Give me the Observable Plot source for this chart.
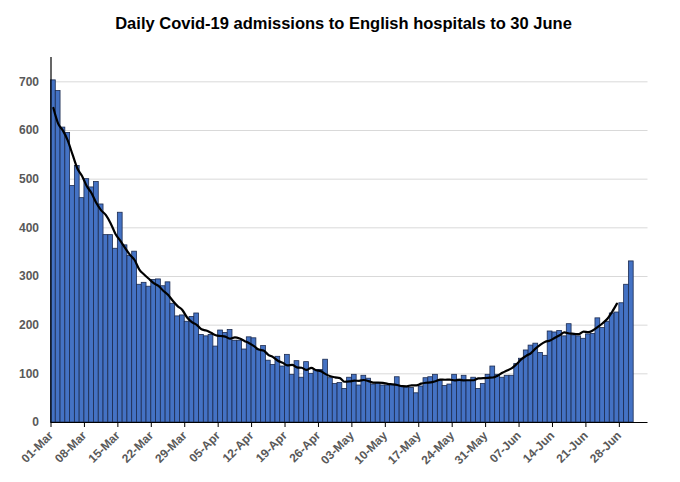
<!DOCTYPE html>
<html>
<head>
<meta charset="utf-8">
<script src="https://cdn.jsdelivr.net/npm/d3@7"></script>
<script src="https://cdn.jsdelivr.net/npm/@observablehq/plot@0.6"></script>
<style>
  html, body { margin: 0; padding: 0; background: #fff; }
</style>
</head>
<body>
<div id="chart"></div>
<script>
const title = "Daily Covid-19 admissions to English hospitals to 30 June";
const startDate = "2021-03-01";
const endDomain = "2021-07-04";
const admissions = [
  703, 681, 606, 595, 486, 527, 461, 500, 483, 494,
  448, 385, 385, 357, 431, 364, 342, 351, 283, 287,
  279, 293, 294, 280, 288, 244, 218, 220, 207, 217,
  224, 180, 177, 180, 156, 189, 184, 190, 168, 168,
  150, 175, 173, 149, 157, 127, 118, 135, 115, 139,
  98, 126, 92, 124, 100, 108, 108, 129, 91, 79,
  81, 69, 92, 98, 76, 96, 90, 78, 81, 76,
  76, 77, 93, 74, 72, 71, 60, 74, 91, 93,
  98, 85, 75, 78, 98, 88, 96, 86, 92, 69,
  79, 98, 115, 98, 92, 96, 96, 120, 131, 148,
  158, 162, 143, 137, 187, 185, 188, 177, 202, 179,
  177, 172, 181, 182, 214, 194, 207, 224, 226, 245,
  283, 331
];
const tickLabels = ["01-Mar","08-Mar","15-Mar","22-Mar","29-Mar","05-Apr","12-Apr","19-Apr","26-Apr",
  "03-May","10-May","17-May","24-May","31-May","07-Jun","14-Jun","21-Jun","28-Jun"];
const yTicks = [0, 100, 200, 300, 400, 500, 600, 700];
const lineEnd = "2021-06-27";

const start = new Date(startDate);
const data = admissions.map((v, i) => {
  const date = d3.utcDay.offset(start, i);
  return {date, mid: d3.utcHour.offset(date, 12), value: v};
});
const parseTick = d3.utcParse("%d-%b-%Y");
const tickDates = tickLabels.map(s => parseTick(s + "-2021"));
const fmt = d3.utcFormat("%d-%b");
const lastLine = new Date(lineEnd);

const chart = Plot.plot({
  width: 680,
  height: 482,
  marginLeft: 50.5,
  marginRight: 32.5,
  marginTop: 57,
  marginBottom: 60,
  style: {fontFamily: "Liberation Sans, Arial, sans-serif", fontSize: "12px", fontWeight: "bold", background: "#fff"},
  x: {type: "utc", domain: [start, new Date(endDomain)]},
  y: {domain: [0, 750]},
  marks: [
    Plot.gridY(yTicks.filter(d => d > 0), {stroke: "#d9d9d9", strokeOpacity: 1, strokeWidth: 1}),
    Plot.rectY(data, {x: "date", interval: "day", y: "value", fill: "#4472C4", stroke: "#1c2b4f", strokeWidth: 0.8, inset: 0}),
    Plot.lineY(data, Plot.filter(d => d.date <= lastLine,
      Plot.windowY({k: 7, anchor: "middle", strict: false}, {x: "mid", y: "value", stroke: "black", strokeWidth: 2.2, curve: "monotone-x"}))),
    Plot.ruleX([start], {stroke: "black", strokeWidth: 1.2}),
    Plot.ruleY([0], {stroke: "black", strokeWidth: 1.2}),
    Plot.axisY({ticks: yTicks, tickSize: 0, tickPadding: 12, label: null, fill: "#595959"}),
    Plot.axisX({ticks: tickDates, tickFormat: fmt, tickRotate: -45, tickSize: 5, tickPadding: 6, label: null, fill: "#595959", stroke: "black"}),
    Plot.text([title], {frameAnchor: "top", dy: -40, dx: -6, fontSize: 16.5, fontWeight: "bold", fill: "black", letterSpacing: "0.7px"})
  ]
});
document.getElementById("chart").appendChild(chart);
</script>
</body>
</html>
